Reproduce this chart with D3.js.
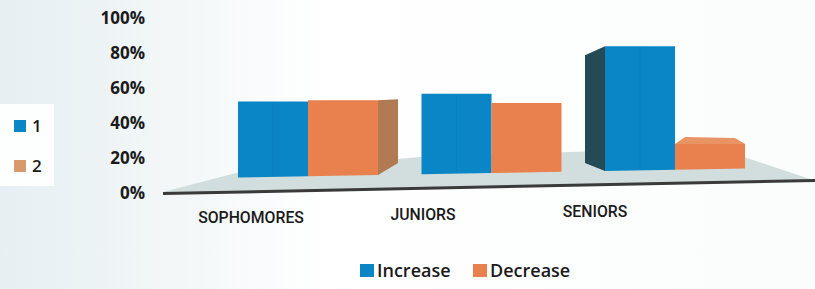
<!DOCTYPE html>
<html><head><meta charset="utf-8">
<script src="https://cdn.jsdelivr.net/npm/d3@7"></script>
<style>html,body{margin:0;padding:0;background:#fff;}svg{display:block;}</style>
</head><body>
<svg id="c" width="815" height="289"></svg>
<script>
const categories = ["SOPHOMORES", "JUNIORS", "SENIORS"];
const seriesNames = ["Increase", "Decrease"];
const increase = [50, 53, 82];
const decrease = [50, 46, 17];
const tickValues = [0, 20, 40, 60, 80, 100];
const tickLabels = ["0%", "20%", "40%", "60%", "80%", "100%"];
const sideLegend = ["1", "2"];

const colors = {Increase: "#0a86c6", Decrease: "#e8814d"};
const sideColors = ["#0a86c6", "#d99a6b"];
const svg = d3.select("#c");
const font = "'Open Sans', 'DejaVu Sans', sans-serif";
const font2 = "Roboto, 'Open Sans', sans-serif";

// background tint
const defs = svg.append("defs");
const g1 = defs.append("linearGradient").attr("id","bg").attr("x1","0").attr("x2","1");
g1.append("stop").attr("offset","0").attr("stop-color","#e6eff2");
g1.append("stop").attr("offset","0.22").attr("stop-color","#f3f7f8");
g1.append("stop").attr("offset","0.4").attr("stop-color","#ffffff");
g1.append("stop").attr("offset","1").attr("stop-color","#fbfcfc");
svg.append("rect").attr("width",815).attr("height",289).attr("fill","url(#bg)");
svg.append("rect").attr("x",0).attr("y",104).attr("width",54).attr("height",82).attr("fill","#fdfefe");

// value axis (back wall)
const yAxis = d3.scaleLinear().domain([0,100]).range([193,18.5]);
svg.append("g").selectAll("text").data(tickValues).join("text")
  .attr("x",145).attr("y",d=>yAxis(d)).attr("dy","0.35em")
  .attr("text-anchor","end").attr("font-family",font).attr("font-weight",700)
  .attr("font-size",17).attr("fill","#1a1a1a")
  .text((d,i)=>tickLabels[i]);

// perspective baseline of bar fronts
const base = d3.scaleLinear().domain([238,745]).range([177.5,168.5]);
const hScale = d3.scaleLinear().domain([0,100]).range([0,152]);
const xCat = d3.scalePoint().domain(categories).range([308,675]);
const xSer = d3.scaleBand().domain(seriesNames).range([-70,70]);

// floor
const floorPts = [[163,192],[236,173],[420,157],[600,151],[744,157],[810,179],[810,181],[163,194]];
svg.append("path").attr("d", d3.line()(floorPts)).attr("fill","#d2dddd");
svg.append("path").attr("d", d3.line()([[163,193.5],[815,180.5]]))
  .attr("stroke","#3a3a3a").attr("stroke-width",3).attr("fill","none");

const bars = [];
categories.forEach((c,i)=>{
  seriesNames.forEach((s)=>{
    const v = s==="Increase" ? increase[i] : decrease[i];
    const xl = xCat(c) + xSer(s), xr = xl + xSer.bandwidth();
    bars.push({c, s, v, xl, xr, i});
  });
});

const gb = svg.append("g");
bars.forEach(b=>{
  const bl = base(b.xl), br = base(b.xr);
  const top = bl - hScale(b.v);
  if (b.i === 0 && b.s === "Decrease") {
    gb.append("path").attr("d", d3.line()([[b.xr,top],[b.xr+20,top-1],[b.xr+20,br-12],[b.xr,br]]))
      .attr("fill","#b27a52");
  }
  if (b.i === categories.length-1 && b.s === "Increase") {
    gb.append("path").attr("d", d3.line()([[b.xl,top],[b.xl-20,top+9],[b.xl-20,bl-8],[b.xl,bl]]))
      .attr("fill","#234a55");
  }
  if (b.i === categories.length-1 && b.s === "Decrease") {
    gb.append("path").attr("d", d3.line()([[b.xl,top],[b.xl+10,top-7],[b.xr-10,top-6],[b.xr,top]]))
      .attr("fill","#e99465");
  }
  gb.append("path").attr("d", d3.line()([[b.xl,top],[b.xr,top],[b.xr,br],[b.xl,bl]]))
    .attr("fill", colors[b.s]);
  if (b.s === "Increase") {
    const xm = (b.xl+b.xr)/2;
    gb.append("line").attr("x1",xm).attr("x2",xm).attr("y1",top+1).attr("y2",base(xm)-1)
      .attr("stroke","#0a7fbb").attr("stroke-width",1);
  }
});

// category labels (perspective)
const xLab = d3.scalePoint().domain(categories).range([251,595]);
const yLab = d3.scaleLinear().domain([251,595]).range([217,211]);
svg.append("g").selectAll("text").data(categories).join("text")
  .attr("x",d=>xLab(d)).attr("y",d=>yLab(xLab(d))).attr("dy","0.35em")
  .attr("text-anchor","middle").attr("font-family",font2).attr("font-weight",500)
  .attr("font-size",15.8).attr("fill","#1a1a1a").text(d=>d);

// side legend
const ySide = d3.scalePoint().domain(sideLegend).range([126,166]);
const sl = svg.append("g");
sideLegend.forEach((d,i)=>{
  sl.append("rect").attr("x",14).attr("y",ySide(d)-6).attr("width",12).attr("height",12).attr("fill",sideColors[i]);
  sl.append("text").attr("x",32).attr("y",ySide(d)).attr("dy","0.35em")
    .attr("font-family",font).attr("font-weight",600).attr("font-size",17).attr("fill","#1a1a1a").text(d);
});

// bottom legend
const legX = d3.scaleOrdinal().domain(seriesNames).range([360,473]);
const lg = svg.append("g");
seriesNames.forEach(s=>{
  lg.append("rect").attr("x",legX(s)).attr("y",264).attr("width",14).attr("height",13).attr("fill",colors[s]);
  lg.append("text").attr("x",legX(s)+17).attr("y",270.5).attr("dy","0.35em")
    .attr("font-family",font).attr("font-weight",600).attr("font-size",18).attr("fill","#1a1a1a").text(s);
});
</script>
</body></html>
